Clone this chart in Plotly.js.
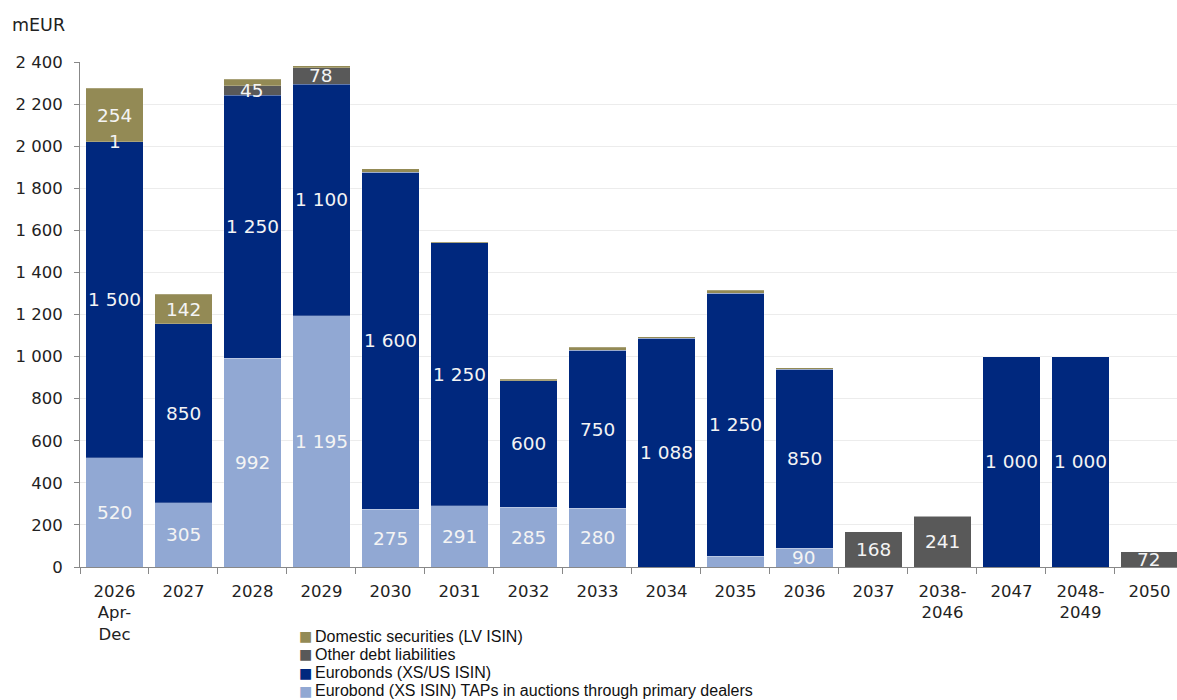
<!DOCTYPE html>
<html>
<head>
<meta charset="utf-8">
<script src="https://cdn.plot.ly/plotly-3.0.1.min.js"></script>
<style>
  html, body { margin: 0; padding: 0; background: #ffffff; }
  #chart { width: 1177px; height: 700px; }
</style>
</head>
<body>
<div id="chart"></div>
<script>
// ---- data ----
const categories = ["2026<br>Apr-<br>Dec", "2027", "2028", "2029", "2030", "2031", "2032", "2033",
  "2034", "2035", "2036", "2037", "2038-<br>2046", "2047", "2048-<br>2049", "2050"];

const tapsValues     = [520, 305, 992, 1195, 275, 291, 285, 280, 0, 50, 90, 0, 0, 0, 0, 0];
const eurobondValues = [1500, 850, 1250, 1100, 1600, 1250, 600, 750, 1088, 1250, 850, 0, 0, 1000, 1000, 0];
const otherValues    = [1, 0, 45, 78, 0, 0, 0, 0, 0, 0, 0, 168, 241, 0, 0, 72];
const domesticValues = [254, 142, 30, 10, 18, 5, 8, 15, 6, 15, 6, 0, 0, 0, 0, 0];

const seriesNames = [
  "Eurobond (XS ISIN) TAPs in auctions through primary dealers",
  "Eurobonds (XS/US ISIN)",
  "Other debt liabilities",
  "Domestic securities (LV ISIN)"
];
const seriesValues = [tapsValues, eurobondValues, otherValues, domesticValues];
const seriesColors = ["#91a8d3", "#00287e", "#595959", "#938a55"];
// smallest value that carries a data label, per series
const labelMinimum = [80, 1, 1, 100];

// ---- build ----
function fmt(v) {
  return String(v).replace(/\B(?=(\d{3})+(?!\d))/g, " ");
}

const traces = seriesValues.map((vals, s) => ({
  type: "bar",
  name: seriesNames[s],
  x: categories,
  y: vals,
  marker: { color: seriesColors[s], line: { color: "rgba(255,255,255,0.35)", width: 0.6 } },
  hoverinfo: "x+y+name"
}));

const annotations = [];
const base = categories.map(() => 0);
seriesValues.forEach((vals, s) => {
  vals.forEach((v, i) => {
    if (v > 0 && v >= labelMinimum[s]) {
      annotations.push({
        x: i, y: base[i] + v / 2, xref: "x", yref: "y",
        text: fmt(v), showarrow: false,
        font: { family: "DejaVu Sans, Verdana, sans-serif", size: 18.5, color: "#f4f4f4" }
      });
    }
    base[i] += v;
  });
});

const plotLeft = 80, plotRight = 0, plotTop = 62, plotBottom = 133;
const plotW = 1177 - plotLeft - plotRight;
const plotH = 700 - plotTop - plotBottom;
const px = x => (x - plotLeft) / plotW;
const py = y => (700 - plotBottom - y) / plotH;

annotations.push({
  text: "mEUR", showarrow: false, xref: "paper", yref: "paper",
  x: px(10), xanchor: "left", y: py(25), yanchor: "middle",
  font: { family: "DejaVu Sans, Verdana, sans-serif", size: 17.5, color: "#222222" }
});

// legend (top entry = last stacked series), one line per series
const legendOrder = [3, 2, 1, 0];
legendOrder.forEach((s, k) => {
  const yc = 636 + k * 18.3;
  annotations.push({
    text: "■", showarrow: false, xref: "paper", yref: "paper",
    x: px(297), xanchor: "left", y: py(yc), yanchor: "middle",
    font: { family: "DejaVu Sans, sans-serif", size: 14, color: seriesColors[s] }
  });
  annotations.push({
    text: seriesNames[s], showarrow: false, xref: "paper", yref: "paper",
    x: px(313), xanchor: "left", y: py(yc), yanchor: "middle",
    font: { family: "Liberation Sans, Arial, sans-serif", size: 16, color: "#111111" }
  });
});

const layout = {
  width: 1177, height: 700,
  margin: { l: plotLeft, r: plotRight, t: plotTop, b: plotBottom, autoexpand: false },
  paper_bgcolor: "#ffffff", plot_bgcolor: "#ffffff",
  barmode: "stack",
  bargap: 0.17,
  separators: ". ",
  showlegend: false,
  xaxis: {
    type: "category",
    range: [-0.5, 15.4],
    tickson: "boundaries",
    tickangle: 0,
    ticks: "outside", ticklen: 6, tickcolor: "#888888",
    ticklabelstandoff: 9,
    showline: true, linecolor: "#888888", linewidth: 1,
    showgrid: false, zeroline: false,
    tickfont: { family: "DejaVu Sans, Verdana, sans-serif", size: 16.5, color: "#222222" },
    fixedrange: true
  },
  yaxis: {
    range: [0, 2400], dtick: 200, tick0: 0,
    separatethousands: true,
    ticks: "outside", ticklen: 5, tickcolor: "#888888",
    ticklabelstandoff: 8,
    showline: true, linecolor: "#888888", linewidth: 1,
    showgrid: true, gridcolor: "#ececec", gridwidth: 1,
    zeroline: false,
    tickfont: { family: "DejaVu Sans, Verdana, sans-serif", size: 16.5, color: "#222222" },
    fixedrange: true
  },
  annotations: annotations
};

Plotly.newPlot("chart", traces, layout, { displayModeBar: false, staticPlot: true });
</script>
</body>
</html>
